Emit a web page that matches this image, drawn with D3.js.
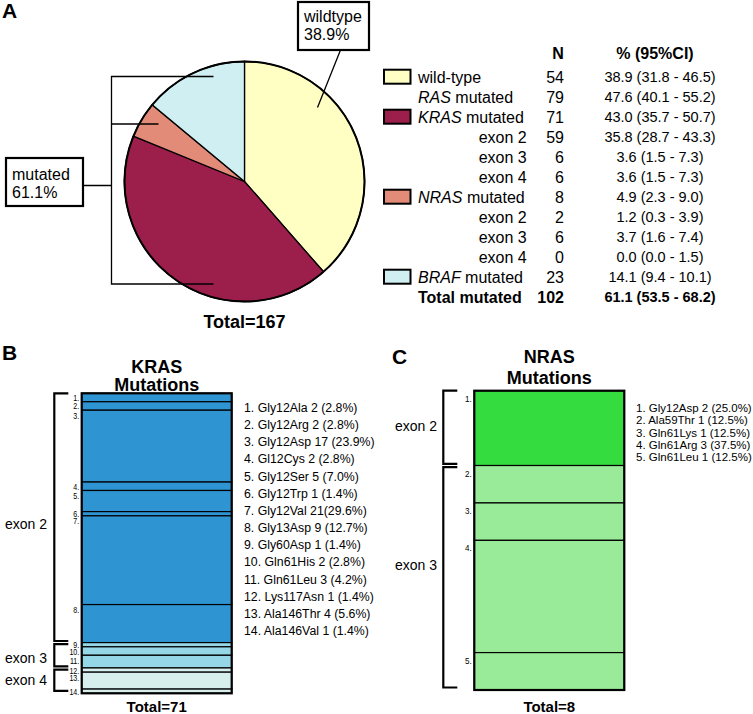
<!DOCTYPE html>
<html>
<head>
<meta charset="utf-8">
<script src="https://cdn.jsdelivr.net/npm/d3@7"></script>
<style>
  html, body { margin: 0; padding: 0; background: #fff; }
  svg { display: block; font-family: "Liberation Sans", Arial, Helvetica, sans-serif; }
</style>
</head>
<body>
<svg id="chart" width="753" height="714"></svg>
<script>
// ---------- DATA ----------
const pieCategories = ["wild-type", "KRAS mutated", "NRAS mutated", "BRAF mutated"];
const piePercents = [38.9, 43.0, 4.9, 14.1];
const pieColors = ["#FFFFC3", "#9B1E4B", "#E18B78", "#CFEFF3"];

const tableLabels = ["wild-type", "RAS mutated", "KRAS mutated", "exon 2", "exon 3", "exon 4",
  "NRAS mutated", "exon 2", "exon 3", "exon 4", "BRAF mutated", "Total mutated"];
const tableN = [54, 79, 71, 59, 6, 6, 8, 2, 6, 0, 23, 102];
const tableCI = ["38.9 (31.8 - 46.5)", "47.6 (40.1 - 55.2)", "43.0 (35.7 - 50.7)", "35.8 (28.7 - 43.3)",
  "3.6 (1.5 - 7.3)", "3.6 (1.5 - 7.3)", "4.9 (2.3 - 9.0)", "1.2 (0.3 - 3.9)", "3.7 (1.6 - 7.4)",
  "0.0 (0.0 - 1.5)", "14.1 (9.4 - 10.1)", "61.1 (53.5 - 68.2)"];
const tableSwatch = [0, null, 1, null, null, null, 2, null, null, null, 3, null];
const tableKind = ["main", "main", "main", "sub", "sub", "sub", "main", "sub", "sub", "sub", "main", "total"];

const krasCounts = [2, 2, 17, 2, 5, 1, 21, 9, 1, 2, 3, 1, 4, 1];
const krasExon = [2, 2, 2, 2, 2, 2, 2, 2, 3, 3, 3, 4, 4, 4];
const krasLegend = ["1. Gly12Ala 2 (2.8%)", "2. Gly12Arg 2 (2.8%)", "3. Gly12Asp 17 (23.9%)",
  "4. Gl12Cys 2 (2.8%)", "5. Gly12Ser 5 (7.0%)", "6. Gly12Trp 1 (1.4%)", "7. Gly12Val 21(29.6%)",
  "8. Gly13Asp 9 (12.7%)", "9. Gly60Asp 1 (1.4%)", "10. Gln61His 2 (2.8%)", "11. Gln61Leu 3 (4.2%)",
  "12. Lys117Asn 1 (1.4%)", "13. Ala146Thr 4 (5.6%)", "14. Ala146Val 1 (1.4%)"];
const krasExonColors = {2: "#2E94D2", 3: "#95D7E7", 4: "#D6EFEC"};

const nrasCounts = [2, 1, 1, 3, 1];
const nrasExon = [2, 3, 3, 3, 3];
const nrasLegend = ["1. Gly12Asp 2 (25.0%)", "2. Ala59Thr 1 (12.5%)", "3. Gln61Lys 1 (12.5%)",
  "4. Gln61Arg 3 (37.5%)", "5. Gln61Leu 1 (12.5%)"];
const nrasExonColors = {2: "#34DC40", 3: "#9AEB99"};

// ---------- DRAW ----------
const svg = d3.select("#chart");

function panelLetter(t, x, y) {
  svg.append("text").attr("x", x).attr("y", y).attr("font-size", 21).attr("font-weight", "bold").text(t);
}

// ---- Panel A: pie ----
panelLetter("A", 2, 18);
const cx = 244.5, cy = 181.5, R = 120;
const pie = d3.pie().sort(null).value(d => d);
const arc = d3.arc().innerRadius(0).outerRadius(R);
const gPie = svg.append("g").attr("transform", `translate(${cx},${cy})`);
gPie.selectAll("path").data(pie(piePercents)).join("path")
  .attr("d", arc).attr("fill", (d, i) => pieColors[i])
  .attr("stroke", "#000").attr("stroke-width", 1.3);
gPie.append("circle").attr("r", R).attr("fill", "none").attr("stroke", "#000").attr("stroke-width", 2);

svg.append("text").attr("x", cx).attr("y", 328).attr("text-anchor", "middle")
  .attr("font-size", 18).attr("font-weight", "bold").text("Total=167");

// callouts
const ann = svg.append("g").attr("stroke", "#000").attr("fill", "none");
ann.append("line").attr("x1", cx + 96).attr("y1", 50).attr("x2", cx + 73).attr("y2", cy - 74).attr("stroke-width", 1.3);
ann.append("rect").attr("x", 298).attr("y", 2).attr("width", 71).attr("height", 48).attr("fill", "#fff").attr("stroke-width", 2.2);
const bx = cx - R - 13;
ann.append("path").attr("stroke-width", 1.3)
  .attr("d", `M${cx - 31},76.5 H${bx} V284 H${cx - 31} M${bx},124 H${bx + 47} M${bx},185.5 H83`);
ann.append("rect").attr("x", 6).attr("y", 158).attr("width", 77).attr("height", 48).attr("fill", "#fff").attr("stroke-width", 2.2);
const boxText = svg.append("g").attr("font-size", 16);
boxText.append("text").attr("x", 304).attr("y", 22).text("wildtype");
boxText.append("text").attr("x", 304).attr("y", 40).text("38.9%");
boxText.append("text").attr("x", 12).attr("y", 180).text("mutated");
boxText.append("text").attr("x", 12).attr("y", 198).text("61.1%");

// ---- Table ----
const rowY = d3.scalePoint().domain(d3.range(tableLabels.length)).range([76.7, 296.7]);
const tg = svg.append("g").attr("font-size", 16);
tg.append("text").attr("x", 558).attr("y", 59).attr("text-anchor", "middle").attr("font-weight", "bold").text("N");
tg.append("text").attr("x", 655).attr("y", 59).attr("text-anchor", "middle").attr("font-weight", "bold").text("% (95%CI)");
tableLabels.forEach((lab, i) => {
  const y = rowY(i);
  const bold = tableKind[i] === "total" ? "bold" : "normal";
  if (tableSwatch[i] !== null) {
    tg.append("rect").attr("x", 384).attr("y", y - 7).attr("width", 26.5).attr("height", 14)
      .attr("fill", pieColors[tableSwatch[i]]).attr("stroke", "#000").attr("stroke-width", 2);
  }
  const t = tg.append("text").attr("y", y + 5.8).attr("font-weight", bold);
  if (tableKind[i] === "sub") {
    t.attr("x", 526.7).attr("text-anchor", "end").text(lab);
  } else {
    t.attr("x", 418);
    const m = lab.match(/^(\S*RAS|BRAF) (.*)$/);
    if (m) {
      t.append("tspan").attr("font-style", "italic").text(m[1]);
      t.append("tspan").text(" " + m[2]);
    } else t.text(lab);
  }
  tg.append("text").attr("x", 564).attr("y", y + 5.8).attr("text-anchor", "end").attr("font-weight", bold).text(tableN[i]);
  tg.append("text").attr("x", 660).attr("y", y + 5.5).attr("text-anchor", "middle").attr("font-size", 14.5)
    .attr("font-weight", bold).text(tableCI[i]);
});

// ---- Stacked mutation bars ----
function drawStack(cfg) {
  const total = d3.sum(cfg.counts);
  const y = d3.scaleLinear().domain([0, total]).range([cfg.y0, cfg.y1]);
  const cum = d3.cumsum(cfg.counts);
  const segs = cfg.counts.map((c, i) => ({c, i, start: cum[i] - c, end: cum[i], exon: cfg.exon[i]}));
  const g = svg.append("g");
  g.selectAll("rect.seg").data(segs).join("rect").attr("class", "seg")
    .attr("x", cfg.x0).attr("width", cfg.w)
    .attr("y", d => y(d.start)).attr("height", d => y(d.end) - y(d.start))
    .attr("fill", d => cfg.colors[d.exon]).attr("stroke", "#000").attr("stroke-width", 1.2);
  g.append("rect").attr("x", cfg.x0).attr("y", cfg.y0).attr("width", cfg.w).attr("height", cfg.y1 - cfg.y0)
    .attr("fill", "none").attr("stroke", "#000").attr("stroke-width", 2.2);
  // segment numbers
  g.selectAll("text.num").data(segs).join("text").attr("class", "num")
    .attr("text-anchor", "end").attr("font-size", cfg.numSize)
    .attr("transform", d => {
      const top = y(d.start), h = y(d.end) - y(d.start);
      const yy = Math.min(top + cfg.numOff, top + h / 2 + 3.5);
      return `translate(${cfg.x0 - 2.5},${yy}) scale(0.85,1)`;
    })
    .text(d => (d.i + 1) + ".");
  // exon brackets
  const exons = Array.from(new Set(cfg.exon));
  exons.forEach(ex => {
    const idx = segs.filter(s => s.exon === ex);
    const a = y(idx[0].start) + (idx[0].i === 0 ? 0 : 1.6);
    const b = y(idx[idx.length - 1].end) - (idx[idx.length - 1].i === segs.length - 1 ? 2.5 : 1.6);
    g.append("path").attr("fill", "none").attr("stroke", "#000").attr("stroke-width", 2.2)
      .attr("d", `M${cfg.bx + 14},${a} H${cfg.bx} V${b} H${cfg.bx + 14}`);
    g.append("text").attr("x", cfg.lx).attr("y", (a + b) / 2 + cfg.exonOff[ex]).attr("font-size", cfg.exonSize)
      .text("exon " + ex);
  });
  // titles
  g.append("text").attr("x", cfg.x0 + cfg.w / 2).attr("y", cfg.t1).attr("text-anchor", "middle")
    .attr("font-size", 18).attr("font-weight", "bold").text(cfg.title);
  g.append("text").attr("x", cfg.x0 + cfg.w / 2).attr("y", cfg.t2).attr("text-anchor", "middle")
    .attr("font-size", 18).attr("font-weight", "bold").text("Mutations");
  g.append("text").attr("x", cfg.x0 + cfg.w / 2).attr("y", 712).attr("text-anchor", "middle")
    .attr("font-size", 15).attr("font-weight", "bold").text("Total=" + total);
  // legend list
  g.selectAll("text.leg").data(cfg.legend).join("text").attr("class", "leg")
    .attr("x", cfg.legX).attr("y", (d, i) => cfg.legY + i * cfg.legStep)
    .attr("font-size", cfg.legSize).text(d => d);
}

panelLetter("B", 2, 360);
drawStack({
  counts: krasCounts, exon: krasExon, colors: krasExonColors, legend: krasLegend,
  x0: 81.7, w: 150, y0: 393.3, y1: 693.3, bx: 54.3, lx: 5, exonOff: {2: 12, 3: 7.5, 4: 5}, exonSize: 14,
  numSize: 8.3, numOff: 8.5, title: "KRAS", t1: 373.3, t2: 390.7,
  legX: 244, legY: 412, legStep: 17.15, legSize: 12.3
});

panelLetter("C", 392, 363.5);
drawStack({
  counts: nrasCounts, exon: nrasExon, colors: nrasExonColors, legend: nrasLegend,
  x0: 474.3, w: 150, y0: 390.7, y1: 690, bx: 443.3, lx: 395, exonOff: {2: 3.5, 3: -7}, exonSize: 14,
  numSize: 9.5, numOff: 11, title: "NRAS", t1: 363.3, t2: 384,
  legX: 636, legY: 411.8, legStep: 12.4, legSize: 11.5
});
</script>
</body>
</html>
